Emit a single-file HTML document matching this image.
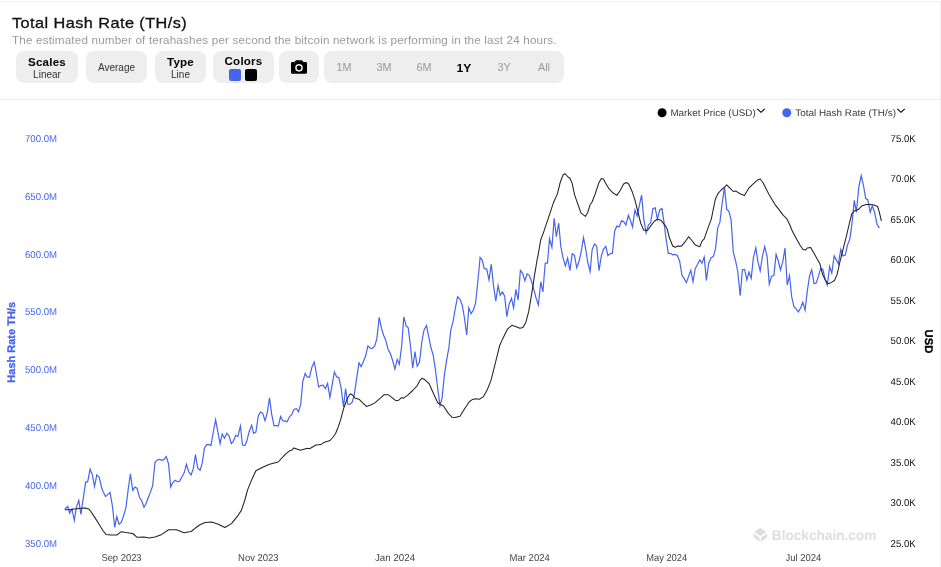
<!DOCTYPE html>
<html lang="en"><head><meta charset="utf-8"><title>Total Hash Rate (TH/s)</title>
<style>
html,body{margin:0;padding:0;background:#fff;}
body{width:941px;height:567px;overflow:hidden;position:relative;font-family:"Liberation Sans",Arial,sans-serif;color:#000;}
.frame{position:absolute;left:-5px;top:1px;width:946px;height:600px;border:1px solid #efefef;border-radius:2px;box-sizing:border-box;}
h1{position:absolute;left:12.4px;top:13px;margin:0;font-size:14.8px;line-height:20px;font-weight:400;white-space:nowrap;color:#111;-webkit-text-stroke:0.3px #111;transform:scaleX(1.1);transform-origin:0 0;letter-spacing:0.4px;}
.sub{position:absolute;left:12.2px;top:33px;margin:0;font-size:11px;line-height:14px;color:#9a9a9a;white-space:nowrap;transform:scaleX(1.06);transform-origin:0 0;letter-spacing:0.16px;}
.btn{position:absolute;top:51px;height:32px;background:#eeeeee;border-radius:8px;text-align:center;font-size:10px;line-height:12px;color:#333;box-sizing:border-box;}
.btn b{display:block;font-size:11px;line-height:12px;color:#000;padding-top:5px;letter-spacing:0.2px;transform:scaleX(1.05);}
.btn.one{line-height:34px;}
.l2{position:relative;top:1.4px;}
.rng span{position:absolute;top:0;width:40px;text-align:center;line-height:32.5px;font-size:10.8px;color:#9a9a9a;}
.rng span.on{color:#000;font-weight:700;font-size:11.2px;line-height:34.4px;transform:scaleX(1.08);}
.sw{position:absolute;top:18.1px;width:11.6px;height:11.6px;border-radius:2px;}
.hr{position:absolute;left:0;top:99px;width:940px;height:1px;background:#ececec;}
svg.chart{position:absolute;left:0;top:100px;}
svg text{font-family:"Liberation Sans",Arial,sans-serif;text-rendering:geometricPrecision;}
.lax text{font-size:10px;fill:#4664f0;}
.rax text{font-size:10px;fill:#111;}
.xax text{font-size:10px;fill:#444;}
.ltitle{font-size:11px;font-weight:700;fill:#4664f0;stroke:#4664f0;stroke-width:0.3px;}
.rtitle{font-size:11.3px;font-weight:700;fill:#000;stroke:#000;stroke-width:0.3px;}
.wm text{font-size:14px;font-weight:700;fill:#dedede;}
.leg text{font-size:9.6px;fill:#3a3a3a;}
polyline{fill:none;stroke-linejoin:round;stroke-linecap:round;}
polyline.k{stroke:#222;stroke-width:1.05;}
polyline.b{stroke:#4664f0;stroke-width:1.2;stroke-linejoin:miter;stroke-miterlimit:6;}
</style></head><body>
<div class="frame"></div>
<h1>Total Hash Rate (TH/s)</h1>
<p class="sub">The estimated number of terahashes per second the bitcoin network is performing in the last 24 hours.</p>
<div class="btn" style="left:16px;width:62px"><b>Scales</b><span class="l2">Linear</span></div>
<div class="btn one" style="left:86px;width:61px">Average</div>
<div class="btn" style="left:155px;width:51px"><b>Type</b><span class="l2">Line</span></div>
<div class="btn" style="left:213px;width:61px"><b style="padding-top:4px">Colors</b><i class="sw" style="left:16.2px;background:#4664f0"></i><i class="sw" style="left:32.1px;background:#000"></i></div>
<div class="btn" style="left:279px;width:40px"><svg width="18" height="16" viewBox="0 0 18 16" style="position:absolute;left:10.8px;top:8px"><path d="M6 1.2 L12 1.2 L13.4 3 L15.6 3 Q17 3 17 4.4 L17 13.4 Q17 14.8 15.6 14.8 L2.4 14.8 Q1 14.8 1 13.4 L1 4.4 Q1 3 2.4 3 L4.6 3 Z" fill="#000"/><circle cx="9" cy="8.8" r="3.1" fill="none" stroke="#eee" stroke-width="1.5"/></svg></div>
<div class="btn rng" style="left:324px;width:240px"><span style="left:0">1M</span><span style="left:40px">3M</span><span style="left:80px">6M</span><span class="on" style="left:120px">1Y</span><span style="left:160px">3Y</span><span style="left:200px">All</span></div>
<div class="hr"></div>
<svg class="chart" width="941" height="467" viewBox="0 100 941 467">
<g class="lax">
<text x="25" y="142.0" textLength="32.1" lengthAdjust="spacingAndGlyphs">700.0M</text>
<text x="25" y="200.0" textLength="32.1" lengthAdjust="spacingAndGlyphs">650.0M</text>
<text x="25" y="258.0" textLength="32.1" lengthAdjust="spacingAndGlyphs">600.0M</text>
<text x="25" y="315.0" textLength="32.1" lengthAdjust="spacingAndGlyphs">550.0M</text>
<text x="25" y="373.0" textLength="32.1" lengthAdjust="spacingAndGlyphs">500.0M</text>
<text x="25" y="431.0" textLength="32.1" lengthAdjust="spacingAndGlyphs">450.0M</text>
<text x="25" y="489.0" textLength="32.1" lengthAdjust="spacingAndGlyphs">400.0M</text>
<text x="25" y="547.0" textLength="32.1" lengthAdjust="spacingAndGlyphs">350.0M</text>
</g><g class="rax">
<text x="890.6" y="142.0" textLength="25.2" lengthAdjust="spacingAndGlyphs">75.0K</text>
<text x="890.6" y="182.0" textLength="25.2" lengthAdjust="spacingAndGlyphs">70.0K</text>
<text x="890.6" y="223.0" textLength="25.2" lengthAdjust="spacingAndGlyphs">65.0K</text>
<text x="890.6" y="263.0" textLength="25.2" lengthAdjust="spacingAndGlyphs">60.0K</text>
<text x="890.6" y="304.0" textLength="25.2" lengthAdjust="spacingAndGlyphs">55.0K</text>
<text x="890.6" y="344.0" textLength="25.2" lengthAdjust="spacingAndGlyphs">50.0K</text>
<text x="890.6" y="385.0" textLength="25.2" lengthAdjust="spacingAndGlyphs">45.0K</text>
<text x="890.6" y="425.0" textLength="25.2" lengthAdjust="spacingAndGlyphs">40.0K</text>
<text x="890.6" y="466.0" textLength="25.2" lengthAdjust="spacingAndGlyphs">35.0K</text>
<text x="890.6" y="506.0" textLength="25.2" lengthAdjust="spacingAndGlyphs">30.0K</text>
<text x="890.6" y="547.0" textLength="25.2" lengthAdjust="spacingAndGlyphs">25.0K</text>
</g><g class="xax">
<text x="101.4" y="561.1" textLength="40.2" lengthAdjust="spacingAndGlyphs">Sep 2023</text>
<text x="238.1" y="561.1" textLength="40.5" lengthAdjust="spacingAndGlyphs">Nov 2023</text>
<text x="374.9" y="561.1" textLength="40.2" lengthAdjust="spacingAndGlyphs">Jan 2024</text>
<text x="509.6" y="561.1" textLength="40.2" lengthAdjust="spacingAndGlyphs">Mar 2024</text>
<text x="646.2" y="561.1" textLength="41" lengthAdjust="spacingAndGlyphs">May 2024</text>
<text x="785.5" y="561.1" textLength="35.8" lengthAdjust="spacingAndGlyphs">Jul 2024</text>
</g>
<text class="ltitle" transform="translate(15,342.3) rotate(-90)" text-anchor="middle">Hash Rate TH/s</text>
<text class="rtitle" transform="translate(925,341.4) rotate(90)" text-anchor="middle">USD</text>
<g class="wm"><path d="M760.35 527.8 L766.3 531.9 L760.35 536 L754.4 531.9 Z M753.6 533.5 L759.6 537.7 L759.6 542 L753.6 537.3 Z M767.1 533.5 L761.1 537.7 L761.1 542 L767.1 537.3 Z" fill="#dedede"/><text x="771.8" y="539.9" textLength="104.5" lengthAdjust="spacingAndGlyphs">Blockchain.com</text></g>
<polyline class="b" points="65.2,508.8 67.8,506.3 69.7,513.1 72.0,509.0 74.3,520.5 76.5,506.9 78.8,500.5 80.9,514.3 83.3,498.2 85.6,482.3 87.7,481.7 90.1,469.1 92.4,474.9 94.5,486.5 96.8,474.9 99.2,477.2 101.3,486.5 103.0,491.4 105.6,496.6 110.0,492.4 112.4,505.9 114.7,527.3 116.8,516.6 119.1,524.3 121.3,522.4 123.6,515.6 125.9,507.9 128.3,488.5 130.4,473.9 132.7,490.4 135.0,487.1 137.2,488.5 139.5,497.6 141.4,500.1 144.0,507.3 146.3,503.0 148.4,497.2 150.7,491.4 152.7,485.6 155.0,462.3 157.3,460.0 159.5,459.4 161.8,460.4 164.1,459.4 166.3,456.5 168.6,464.2 170.7,487.1 173.0,482.3 175.2,480.3 177.5,481.7 179.6,481.3 182.0,476.8 184.3,472.6 186.4,464.2 188.8,472.0 191.1,474.9 193.4,468.1 195.5,454.5 197.7,468.1 200.1,470.2 202.2,463.4 204.5,447.9 206.9,444.4 209.0,444.6 210.9,445.5 213.3,432.0 215.6,419.8 217.7,430.8 220.1,443.6 222.2,433.9 224.5,438.2 226.8,433.3 229.0,435.8 231.3,443.6 233.4,441.1 235.8,435.3 237.9,436.6 240.4,426.0 242.5,445.0 244.9,445.5 246.8,441.1 249.1,431.8 251.7,425.2 253.6,433.3 255.9,432.0 258.3,415.9 260.4,412.0 262.7,413.4 265.0,420.7 267.2,413.0 269.5,397.8 271.6,413.9 274.0,425.6 276.3,425.6 278.2,426.1 280.6,416.5 282.7,420.7 285.0,421.1 287.1,421.7 289.5,416.8 291.8,414.5 293.9,409.5 296.3,408.7 298.6,411.6 300.7,404.2 302.8,381.7 305.1,373.4 307.2,376.9 309.5,377.3 311.9,367.2 314.2,362.0 316.3,373.0 318.7,387.0 320.8,385.6 323.1,385.2 325.4,388.5 327.6,383.3 329.9,397.3 332.2,384.7 334.4,372.0 336.7,376.9 338.8,377.5 341.1,387.6 343.5,407.0 345.6,388.5 347.7,404.0 349.9,404.4 352.2,402.1 354.3,394.7 356.7,377.9 359.0,362.9 361.1,366.6 363.4,361.4 365.6,356.1 367.9,345.9 370.2,348.2 372.4,348.4 374.7,345.9 376.8,339.1 379.2,317.4 381.5,328.4 383.6,335.2 385.7,340.1 388.1,349.4 390.4,353.6 392.5,360.0 394.9,369.1 397.2,359.4 399.3,364.3 401.6,346.8 403.8,316.8 406.1,325.9 408.2,327.8 410.6,346.8 412.7,368.2 415.0,351.7 417.2,366.2 419.5,362.4 421.8,342.0 423.9,330.4 426.5,325.5 430.9,347.5 433.2,355.2 435.3,368.8 437.7,388.2 440.0,405.6 442.1,397.9 444.4,374.6 446.8,359.1 448.9,347.5 450.8,330.2 453.1,321.4 455.4,307.9 457.6,296.8 459.9,299.1 462.2,305.0 464.4,317.6 466.7,335.0 468.8,307.9 471.1,313.7 473.5,309.8 475.6,303.0 477.7,282.7 480.1,257.5 482.2,260.0 484.3,268.7 486.7,269.1 489.0,279.8 491.3,264.2 493.4,284.6 495.8,301.1 498.1,285.6 500.2,295.3 502.4,292.0 504.7,296.2 506.8,316.6 509.2,304.0 511.5,298.2 513.6,307.9 515.9,289.4 518.1,300.1 520.4,270.4 522.5,273.0 524.9,280.7 527.2,273.9 529.3,275.3 531.6,281.7 533.8,289.4 536.1,298.2 538.4,305.0 540.8,281.7 542.9,292.0 545.2,263.3 547.5,262.9 549.5,238.7 551.9,247.4 554.2,218.3 556.3,236.7 558.7,223.2 560.8,246.4 563.1,258.1 565.4,265.8 567.6,258.1 569.9,270.7 572.2,253.8 574.4,255.2 576.7,267.8 578.8,262.0 581.1,252.3 583.5,237.7 585.6,248.4 587.7,262.0 590.1,271.6 592.2,249.3 594.5,244.1 596.7,246.1 599.0,270.7 601.3,256.1 603.4,249.3 605.8,246.4 607.9,255.7 610.2,253.8 612.4,253.2 614.7,230.9 616.8,226.1 619.2,227.0 621.5,220.8 623.6,221.6 625.9,225.1 628.3,215.4 630.4,220.3 632.5,227.0 634.9,210.0 637.2,215.8 639.3,205.7 641.6,195.1 643.8,219.3 646.1,232.9 648.4,225.1 650.6,222.8 652.9,208.6 655.2,207.7 657.4,219.3 659.7,210.0 662.0,208.6 664.1,223.2 666.1,238.9 668.3,253.3 670.5,253.3 672.7,254.8 675.1,254.4 677.3,255.5 679.6,261.0 682.0,275.3 684.2,278.6 686.4,282.6 688.6,276.4 690.8,270.2 693.0,281.9 695.2,268.7 697.6,264.3 699.8,259.9 702.0,263.2 704.2,257.0 706.4,280.4 708.7,263.2 711.1,257.7 713.3,256.6 715.5,248.9 717.7,227.9 719.9,222.4 722.1,203.7 724.5,187.1 726.7,209.2 728.9,211.4 731.1,220.2 733.3,252.2 735.6,261.0 737.8,272.0 740.2,295.8 742.4,269.8 744.6,269.4 746.8,279.7 749.0,272.0 751.2,278.2 753.4,257.7 755.8,247.8 758.0,262.1 760.2,270.9 762.4,256.6 764.7,246.7 767.1,256.6 769.3,284.1 771.5,276.4 773.9,275.3 776.1,254.4 778.3,261.0 780.5,269.8 782.9,261.2 785.0,248.0 787.2,285.0 789.5,275.7 791.7,296.9 794.0,306.7 796.1,308.8 798.3,311.9 800.6,308.0 802.8,302.2 805.1,310.1 807.2,291.6 809.6,275.7 811.7,269.9 814.1,283.7 816.2,283.1 818.6,275.7 820.7,268.3 822.8,269.1 825.2,279.7 827.3,285.0 829.7,266.5 831.8,273.1 834.2,255.9 836.3,259.9 838.4,263.8 840.8,249.3 842.9,255.9 845.3,255.1 847.4,245.3 849.8,239.3 851.9,224.2 854.3,200.4 856.4,212.3 858.8,187.2 861.2,175.8 863.3,184.5 865.7,198.5 867.8,199.6 870.2,212.3 872.3,205.7 874.6,212.3 877.0,224.2 879.1,227.6"/>
<polyline class="k" points="65.2,509.8 69.7,509.8 76.5,508.8 80.9,508.3 85.6,507.9 89.1,509.2 91.0,511.7 94.9,517.6 98.8,523.8 102.7,530.2 106.0,534.4 110.4,535.0 116.8,535.0 121.3,531.7 125.9,532.5 132.7,533.5 137.2,537.3 144.0,537.0 149.2,537.9 155.0,537.0 161.8,534.4 168.6,529.8 176.3,529.8 184.1,532.7 191.1,531.5 195.7,527.8 200.0,524.7 205.1,522.6 211.7,521.9 218.3,524.2 224.9,527.5 231.5,523.6 238.1,515.3 241.4,510.4 244.7,500.5 247.6,489.9 252.0,478.9 255.9,470.7 262.7,467.3 269.5,464.3 278.2,462.0 285.0,454.7 289.5,450.8 291.8,450.2 293.9,447.9 300.5,450.2 307.3,448.3 309.6,448.8 316.0,445.0 320.9,444.6 323.8,442.6 330.0,440.5 333.2,437.0 335.7,433.3 338.1,427.2 340.6,419.8 343.5,408.9 347.4,398.2 350.3,393.8 352.2,394.7 355.1,398.2 359.0,399.2 362.9,403.1 366.4,406.4 370.6,405.0 374.5,403.1 380.3,398.2 384.2,394.7 388.1,394.7 392.0,397.6 395.8,400.7 398.7,400.2 401.6,397.6 403.6,398.2 407.5,395.3 412.7,390.5 417.2,385.6 420.1,380.2 422.0,378.3 424.9,379.8 427.8,382.7 428.9,383.3 432.8,392.0 437.7,402.7 440.0,404.3 443.5,406.0 448.3,413.4 452.2,417.3 455.1,417.6 460.0,416.3 464.8,408.5 469.3,401.7 472.6,399.4 475.5,398.8 479.3,399.2 483.2,396.9 487.1,390.1 491.0,380.4 494.9,364.9 499.7,345.5 502.6,338.9 507.4,329.2 511.9,325.3 516.1,326.7 520.0,328.2 522.9,327.6 525.8,322.4 528.7,311.7 531.6,294.3 534.6,274.9 537.5,257.5 537.9,256.1 540.8,239.7 543.7,231.9 548.6,217.4 553.4,202.8 557.3,194.1 560.2,182.5 563.1,174.7 565.1,173.7 568.0,177.0 569.9,178.2 572.2,183.4 574.4,194.1 577.7,203.8 581.1,213.1 585.4,216.4 587.7,212.5 590.1,204.8 592.2,201.8 595.1,194.1 599.0,182.5 601.3,178.6 603.4,179.0 605.8,183.4 608.7,188.3 612.6,192.5 616.8,195.4 620.3,190.2 623.6,184.0 626.1,182.5 628.7,184.0 632.0,191.2 634.9,199.9 637.8,211.5 640.7,223.2 643.6,230.0 647.5,230.5 650.6,226.1 654.3,221.2 657.4,219.3 661.0,220.3 664.9,225.1 667.2,229.0 669.4,237.8 672.7,246.0 674.9,247.3 678.2,246.0 681.5,246.2 684.8,242.2 688.6,236.7 691.5,240.0 695.4,245.1 699.8,246.7 702.0,241.1 704.2,238.9 708.0,227.9 711.3,219.1 715.3,199.3 717.9,193.7 721.2,190.0 724.5,187.1 726.7,184.9 730.0,188.2 733.3,191.5 736.0,191.1 740.0,193.7 744.4,195.5 748.8,188.2 753.2,183.8 757.6,179.9 760.2,179.0 763.1,182.7 768.6,193.7 775.2,204.8 779.0,209.6 782.9,214.9 786.9,218.9 789.5,224.2 792.2,230.8 796.1,238.2 800.1,245.3 802.8,249.3 805.4,250.1 807.2,248.0 810.7,247.4 813.3,251.9 817.3,259.3 819.9,263.8 822.6,274.4 825.2,279.7 827.9,283.7 830.5,282.9 834.5,280.5 837.1,274.4 839.8,262.5 842.4,251.9 846.4,236.1 849.8,221.5 851.9,213.6 854.3,211.0 858.3,209.6 862.2,205.7 866.2,204.4 870.2,204.4 874.1,204.9 877.6,206.5 879.4,212.3 881.3,220.7"/>
<g class="leg"><circle cx="662.1" cy="112.8" r="4.5" fill="#000"/><text x="670.4" y="115.6" textLength="85.3" lengthAdjust="spacingAndGlyphs">Market Price (USD)</text><path d="M757.3 108.8 l3.7 3.5 l3.7 -3.5" fill="none" stroke="#000" stroke-width="1.15"/><circle cx="786.8" cy="112.8" r="4.5" fill="#4664f0"/><text x="795.2" y="115.6" textLength="100.8" lengthAdjust="spacingAndGlyphs">Total Hash Rate (TH/s)</text><path d="M897.3 108.8 l3.7 3.5 l3.7 -3.5" fill="none" stroke="#000" stroke-width="1.15"/></g>
</svg>
</body></html>
